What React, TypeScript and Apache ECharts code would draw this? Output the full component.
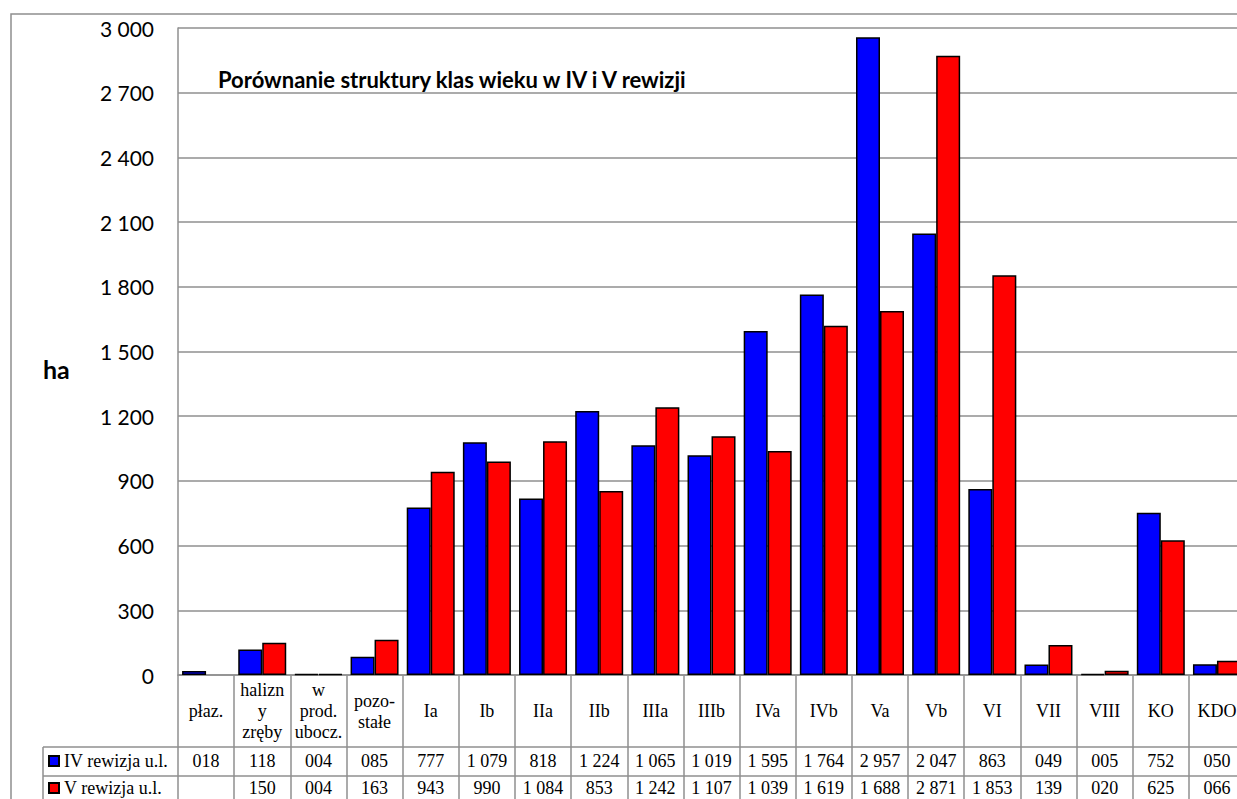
import React, { useEffect, useRef } from "react";
import * as echarts from "echarts";

const categories = [
  "płaz.",
  "halizn\ny\nzręby",
  "w\nprod.\nubocz.",
  "pozo-\nstałe",
  "Ia", "Ib", "IIa", "IIb", "IIIa", "IIIb", "IVa", "IVb", "Va", "Vb", "VI", "VII", "VIII", "KO", "KDO",
];
const seriesNames = ["IV rewizja u.l.", "V rewizja u.l."];
const rev4: (number | null)[] = [18, 118, 4, 85, 777, 1079, 818, 1224, 1065, 1019, 1595, 1764, 2957, 2047, 863, 49, 5, 752, 50];
const rev5: (number | null)[] = [null, 150, 4, 163, 943, 990, 1084, 853, 1242, 1107, 1039, 1619, 1688, 2871, 1853, 139, 20, 625, 66];
const yMin = 0;
const yMax = 3000;
const yStep = 300;
const titleText = "Porównanie struktury klas wieku w IV i V rewizji";
const yName = "ha";

const GRID_LEFT = 178;
const GRID_TOP = 28;
const CAT_W = 56.16;
const GRID_W = CAT_W * categories.length;
const GRID_H = 647;
const GRID_BOTTOM = GRID_TOP + GRID_H;
const ROW1 = 747;
const ROW2 = 776;
const TABLE_BOTTOM = 830;
const GRAY = "#8f8f8f";
const SERIF = "'Liberation Serif', 'Times New Roman', serif";
const SANS = "Lato, Carlito, Calibri, sans-serif";

const thousands = (s: string) => s.replace(/\B(?=(\d{3})+(?!\d))/g, " ");
const fmtCell = (v: number | null) => (v == null ? "" : thousands(String(v).padStart(3, "0")));
const fmtAxis = (v: number) => thousands(String(v));

export default function App() {
  const ref = useRef<HTMLDivElement>(null);
  useEffect(() => {
    if (!ref.current) return;
    const chart = echarts.init(ref.current, undefined, { renderer: "svg" });
    const right = GRID_LEFT + GRID_W;
    const tableLabel = (data: (number | null)[], margin: number) => ({
      type: "category" as const,
      gridIndex: 0,
      position: "bottom" as const,
      data: categories,
      axisLine: { show: false },
      axisTick: { show: false },
      splitLine: { show: false },
      axisLabel: {
        interval: 0,
        margin,
        verticalAlign: "middle" as const,
        fontFamily: SERIF,
        fontSize: 18,
        color: "#000",
        formatter: (_v: string, i: number) => fmtCell(data[i]),
      },
    });
    chart.setOption({
      animation: false,
      backgroundColor: "#fff",
      grid: { left: GRID_LEFT, top: GRID_TOP, width: GRID_W, height: GRID_H, containLabel: false },
      legend: {
        orient: "vertical",
        left: 48,
        top: 752,
        padding: 0,
        itemWidth: 10,
        itemHeight: 10,
        itemGap: 9,
        icon: "rect",
        textStyle: { fontFamily: SERIF, fontSize: 18, color: "#000", lineHeight: 18 },
        data: seriesNames,
      },
      xAxis: [
        {
          type: "category",
          data: categories,
          position: "bottom",
          axisLine: { show: true, lineStyle: { color: GRAY, width: 1.5 } },
          axisTick: { show: true, interval: 0, length: TABLE_BOTTOM - GRID_BOTTOM, lineStyle: { color: GRAY, width: 1.5 } },
          axisLabel: {
            interval: 0,
            margin: 36,
            verticalAlign: "middle",
            lineHeight: 21,
            fontFamily: SERIF,
            fontSize: 18,
            color: "#000",
          },
          splitLine: { show: false },
        },
        tableLabel(rev4, 86),
        tableLabel(rev5, 113),
      ],
      yAxis: {
        type: "value",
        min: yMin,
        max: yMax,
        interval: yStep,
        axisLine: { show: true, lineStyle: { color: GRAY, width: 1.5 } },
        axisTick: { show: false },
        splitLine: { show: true, lineStyle: { color: GRAY, width: 1.5 } },
        axisLabel: { margin: 24, fontFamily: SANS, fontSize: 21, color: "#000", formatter: (v: number) => fmtAxis(v) },
      },
      series: [
        {
          name: seriesNames[0],
          type: "bar",
          xAxisIndex: 0,
          data: rev4,
          barWidth: 24,
          barGap: "0%",
          itemStyle: { color: "#0000ff", borderColor: "#000", borderWidth: 1.5 },
        },
        {
          name: seriesNames[1],
          type: "bar",
          xAxisIndex: 0,
          data: rev5,
          barWidth: 24,
          barGap: "0%",
          itemStyle: { color: "#ff0000", borderColor: "#000", borderWidth: 1.5 },
        },
      ],
      graphic: [
        {
          type: "rect",
          z: -10,
          silent: true,
          shape: { x: 11, y: 14, width: 1400, height: 900 },
          style: { fill: "none", stroke: GRAY, lineWidth: 1.5 },
        },
        { type: "line", shape: { x1: 43, y1: ROW1, x2: right, y2: ROW1 }, style: { stroke: GRAY, lineWidth: 1.5 } },
        { type: "line", shape: { x1: 43, y1: ROW2, x2: right, y2: ROW2 }, style: { stroke: GRAY, lineWidth: 1.5 } },
        { type: "line", shape: { x1: 43, y1: ROW1, x2: 43, y2: TABLE_BOTTOM }, style: { stroke: GRAY, lineWidth: 1.5 } },
        {
          type: "text",
          left: 218,
          top: 68,
          style: { text: titleText, font: `bold 22px ${SANS}`, fill: "#000" },
        },
        {
          type: "text",
          left: 43,
          top: 356,
          style: { text: yName, font: `bold 25px ${SANS}`, fill: "#000" },
        },
      ],
    });
    return () => chart.dispose();
  }, []);
  return (
    <div style={{ position: "fixed", left: 0, top: 0, width: 1237, height: 799, overflow: "hidden", background: "#fff" }}>
      <div ref={ref} style={{ width: 1300, height: 860 }} />
    </div>
  );
}
